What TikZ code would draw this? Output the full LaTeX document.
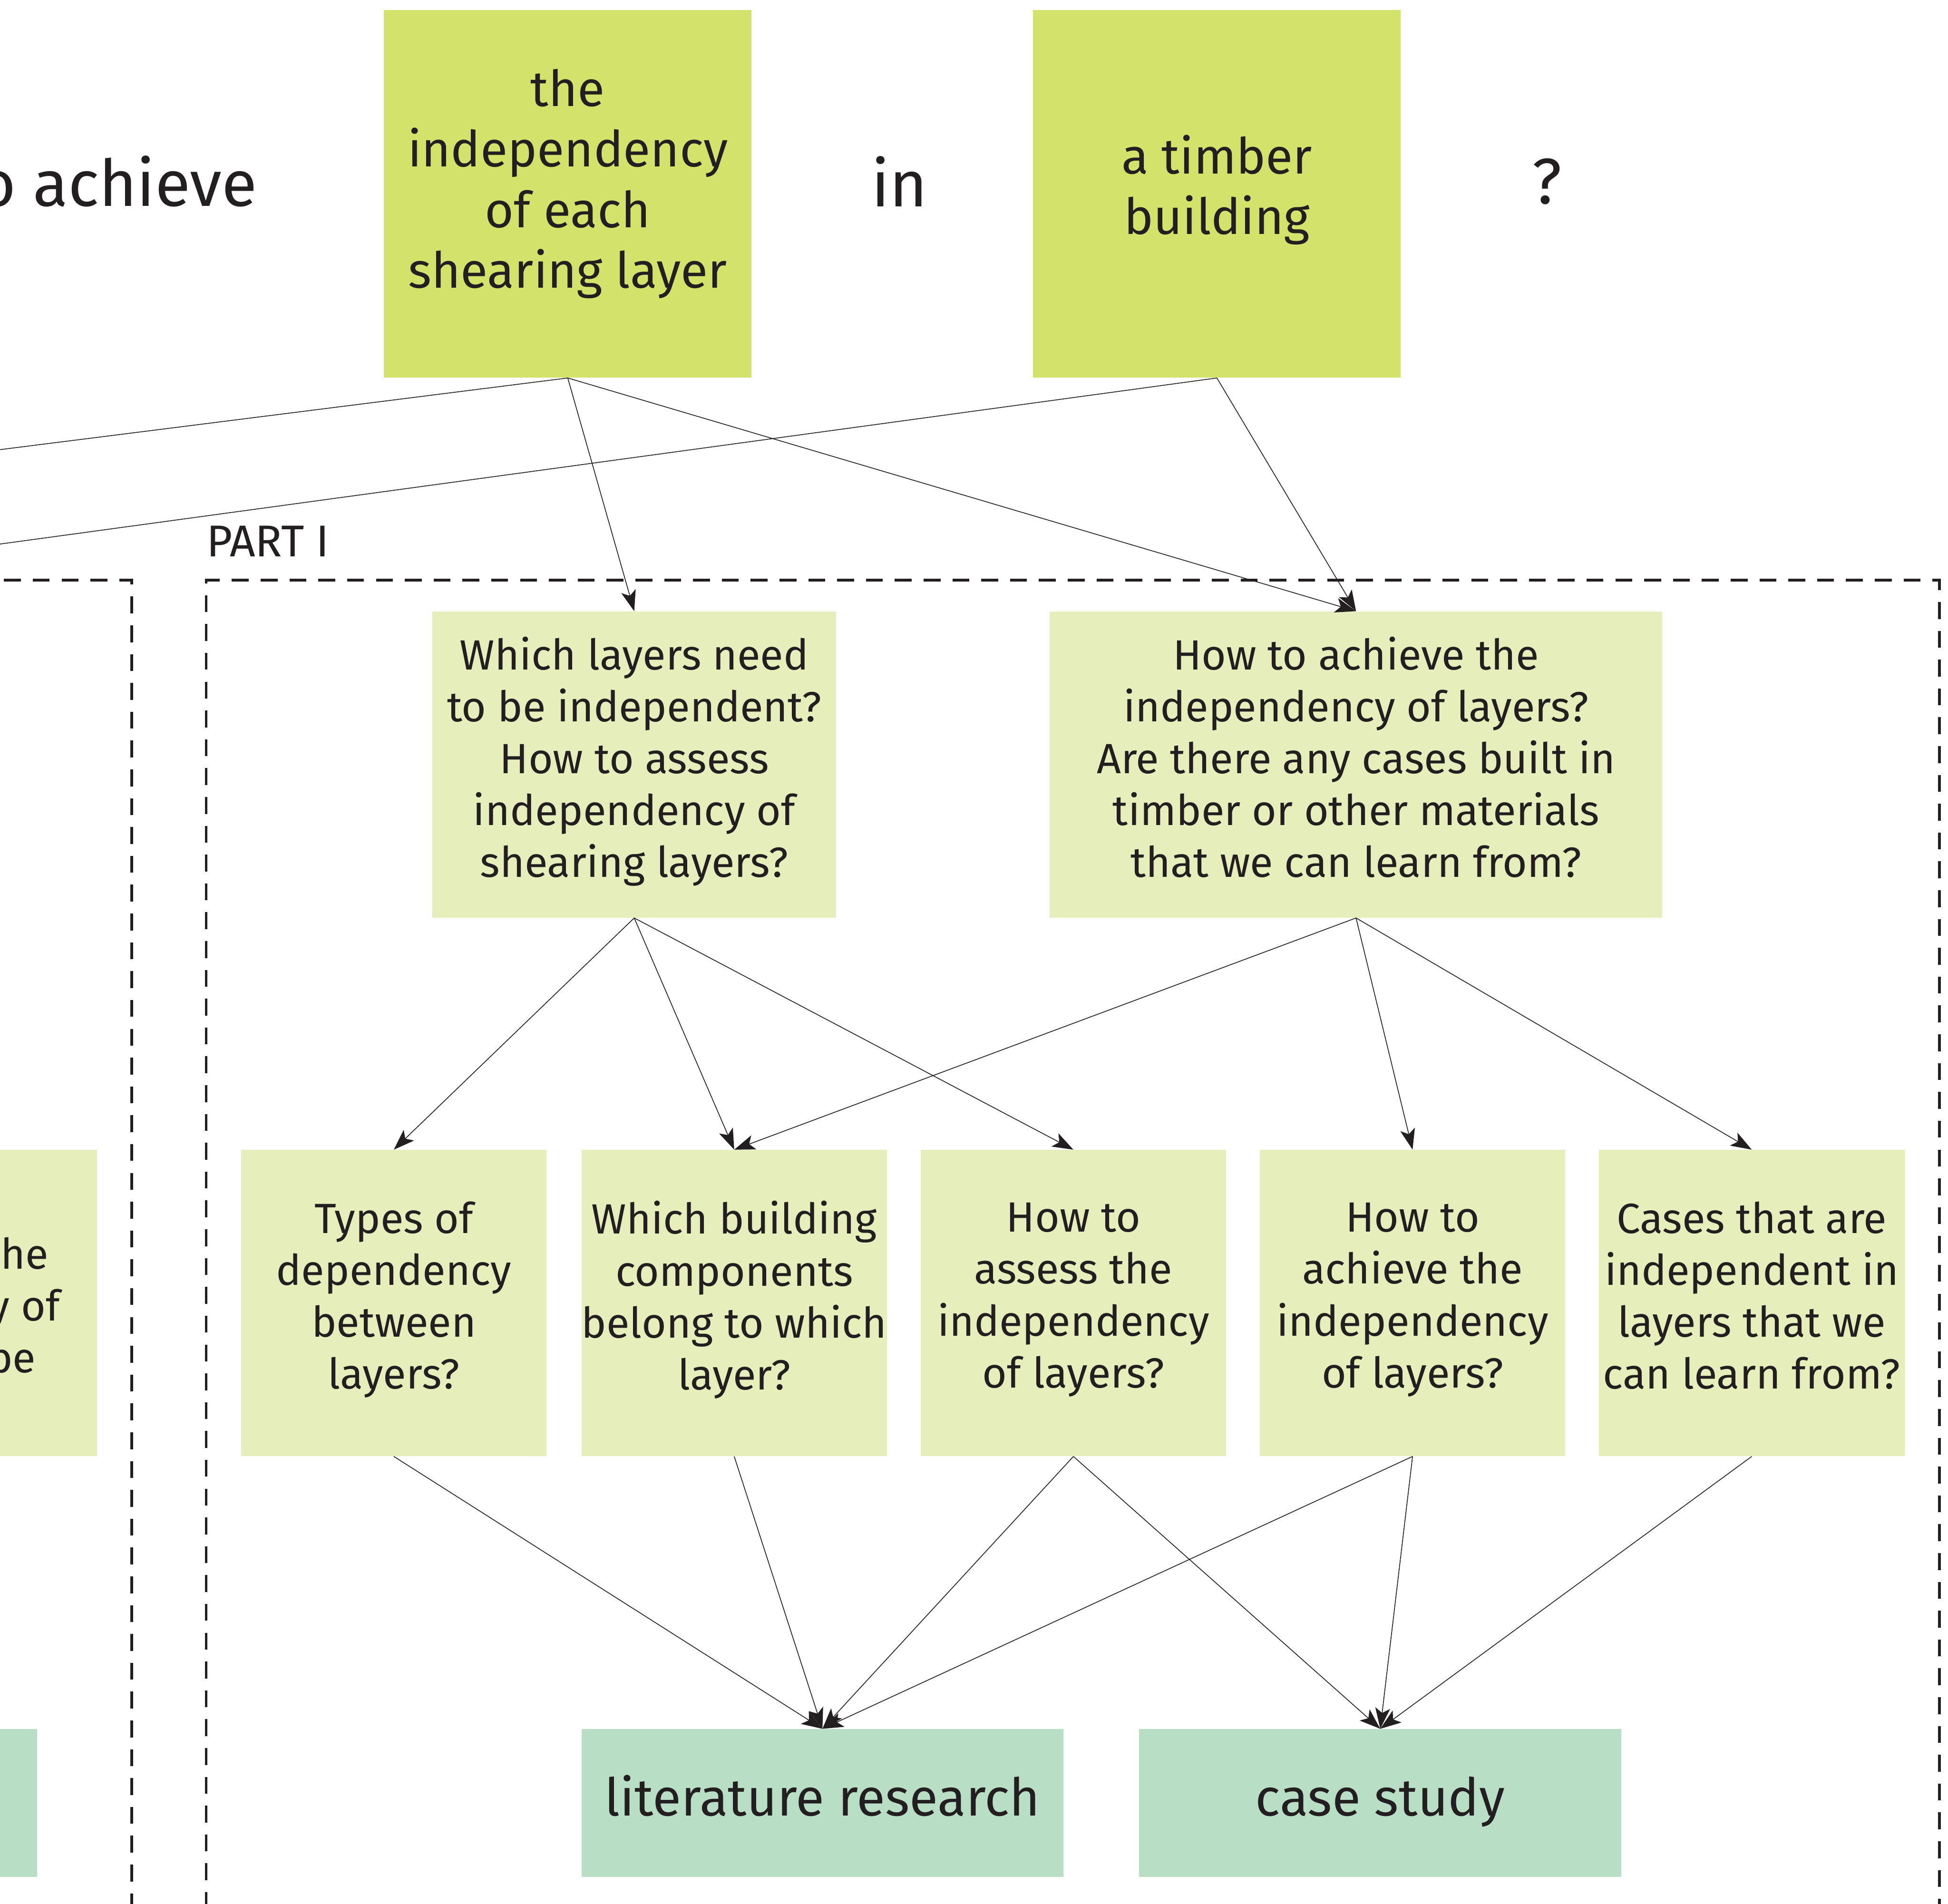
\documentclass[tikz,border=0pt]{standalone}
\usepackage{fontspec}
\setmainfont{Fira Sans}
\usepackage{xcolor}
\usetikzlibrary{arrows.meta, positioning}

\definecolor{topgreen}{HTML}{D3E26A}
\definecolor{qgreen}{HTML}{E6EFBB}
\definecolor{methodgreen}{HTML}{B9DEC6}
\definecolor{ink}{HTML}{231F20}

\tikzset{
    boxtext/.style={execute at begin node=\strut, execute at end node=\strut},
    bigtext/.style={inner sep=0pt, font=\fontsize{37}{44}\selectfont},
    topbox/.style={boxtext, fill=topgreen, minimum width=74mm, minimum height=74mm, inner sep=0pt,
        align=center, font=\fontsize{28.5}{34.6}\selectfont},
    qbox/.style={boxtext, fill=qgreen, minimum height=61.6mm, inner sep=0pt,
        align=center, font=\fontsize{24.2}{29.7}\selectfont},
    methodbox/.style={boxtext, fill=methodgreen, minimum width=97mm, minimum height=29.75mm, inner sep=0pt,
        font=\fontsize{29.9}{36}\selectfont},
    partlabel/.style={inner sep=0pt, font=\fontsize{25.5}{30}\selectfont},
    frame/.style={line width=1.5pt, dash pattern=on 3.4mm off 2.4mm},
    link/.style={line width=0.45pt},
    arrow/.style={link, -{Stealth[length=4.2mm, width=3mm, inset=1mm]}}
}

\begin{document}
\begin{tikzpicture}[x=0.25mm, y=-0.25mm, color=ink]
        \useasboundingbox (0,0) rectangle (1568,1532.5);
        \clip (0,0) rectangle (1568,1532.5);

        % The research question
        \node[bigtext, anchor=east] (achieve) at (207,146) {to achieve};
        \node[topbox, execute at end node={\rule[-17.5pt]{0pt}{17.5pt}}] (indep) at (457,156)
            {the\\independency\\of each\\shearing layer};
        \node[bigtext] (in) at (724,146) {in};
        \node[topbox] (timber) at (979.5,156) {a timber\\building};
        \node[bigtext] (qmark) at (1245,146) {?};

        % Dashed frames
        \draw[frame] (-20,467) -- (106,467) -- (106,1560);
        \draw[frame] (166,1560) -- (166,467) -- (1561,467) -- (1561,1560);
        \node[partlabel, anchor=base west] (part1) at (166,448) {PART I};

        % Sub questions
        \node[qbox, minimum width=81.25mm] (whichlayers) at (510.5,615.5)
            {Which layers need\\to be independent?\\How to assess\\independency of\\shearing layers?};
        \node[qbox, minimum width=123.25mm] (howachieve) at (1091.5,615.5)
            {How to achieve the\\independency of layers?\\Are there any cases built in\\timber or other materials\\that we can learn from?};

        % Detailed questions
        \node[qbox, minimum width=61.5mm] (prior) at (-45,1049)
            {\rule{0pt}{29.3pt}\hspace*{3.8em}he\\\hspace*{3.8em}y of\\\hspace*{3.2em}be};
        \node[qbox, minimum width=61.5mm] (types) at (317,1049)
            {Types of\\dependency\\between\\layers?};
        \node[qbox, minimum width=61.5mm] (components) at (591,1049)
            {Which building\\components\\belong to which\\layer?};
        \node[qbox, minimum width=61.5mm] (assess) at (864,1049)
            {How to\\assess the\\independency\\of layers?};
        \node[qbox, minimum width=61.5mm] (achievelayers) at (1137,1049)
            {How to\\achieve the\\independency\\of layers?};
        \node[qbox, minimum width=61.5mm] (cases) at (1410,1049)
            {Cases that are\\independent in\\layers that we\\can learn from?};

        % Methods
        \node[methodbox] (prevmethod) at (-164,1451.5) {};
        \node[methodbox] (literature) at (662,1451.5) {literature research};
        \node[methodbox] (casestudy) at (1111,1451.5) {case study};

        % Links leaving the picture on the left
        \coordinate (offA) at (-20,364.5);
        \coordinate (offB) at (-20,440.7);
        \draw[link] (indep.south) -- (offA);
        \draw[link] (timber.south) -- (offB);

        % Arrows
        \draw[arrow] (indep.south) -- (whichlayers.north);
        \draw[arrow] (indep.south) -- (howachieve.north);
        \draw[arrow] (timber.south) -- (howachieve.north);

        \draw[arrow] (whichlayers.south) -- (types.north);
        \draw[arrow] (whichlayers.south) -- (components.north);
        \draw[arrow] (whichlayers.south) -- (assess.north);
        \draw[arrow] (howachieve.south) -- (components.north);
        \draw[arrow] (howachieve.south) -- (achievelayers.north);
        \draw[arrow] (howachieve.south) -- (cases.north);

        \draw[arrow] (types.south) -- (literature.north);
        \draw[arrow] (components.south) -- (literature.north);
        \draw[arrow] (assess.south) -- (literature.north);
        \draw[arrow] (achievelayers.south) -- (literature.north);
        \draw[arrow] (assess.south) -- (casestudy.north);
        \draw[arrow] (achievelayers.south) -- (casestudy.north);
        \draw[arrow] (cases.south) -- (casestudy.north);
\end{tikzpicture}
\end{document}
